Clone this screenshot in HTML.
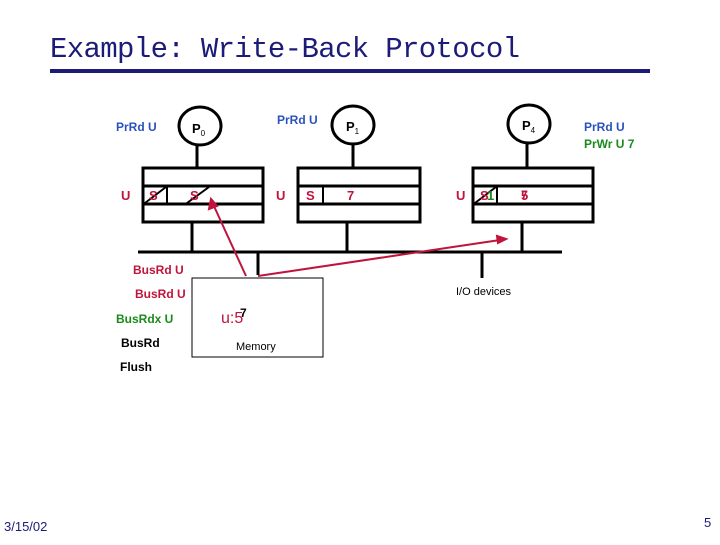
<!DOCTYPE html>
<html><head><style>
body{margin:0;width:720px;height:540px;background:#fff;overflow:hidden;font-family:"Liberation Sans",sans-serif}
</style></head><body>
<svg width="720" height="540" xmlns="http://www.w3.org/2000/svg" font-family="Liberation Sans, sans-serif">
<text x="50" y="57" font-size="29" fill="#1c1c78" font-family="Liberation Mono, monospace" textLength="470">Example: Write-Back Protocol</text>
<rect x="50" y="69" width="600" height="4" fill="#1c1c78"/>
<g stroke="#000" stroke-width="3" fill="none">
<ellipse cx="200" cy="126" rx="21" ry="19"/>
<ellipse cx="353" cy="125" rx="21" ry="19"/>
<ellipse cx="529" cy="124" rx="21" ry="19"/>
<line x1="197" y1="145" x2="197" y2="168"/>
<line x1="353" y1="144" x2="353" y2="168"/>
<line x1="527" y1="143" x2="527" y2="168"/>
<rect x="143" y="168" width="120" height="54"/>
<rect x="298" y="168" width="122" height="54"/>
<rect x="473" y="168" width="120" height="54"/>
<line x1="143" y1="186" x2="263" y2="186"/><line x1="143" y1="204" x2="263" y2="204"/>
<line x1="298" y1="186" x2="420" y2="186"/><line x1="298" y1="204" x2="420" y2="204"/>
<line x1="473" y1="186" x2="593" y2="186"/><line x1="473" y1="204" x2="593" y2="204"/>
<line x1="192" y1="222" x2="192" y2="252"/>
<line x1="347" y1="222" x2="347" y2="252"/>
<line x1="522" y1="222" x2="522" y2="252"/>
<line x1="138" y1="252" x2="562" y2="252"/>
<line x1="258" y1="252" x2="258" y2="275"/>
<line x1="482" y1="252" x2="482" y2="278"/>
</g>
<g stroke="#000" stroke-width="2">
<line x1="167" y1="186" x2="167" y2="204"/>
<line x1="323" y1="186" x2="323" y2="204"/>
<line x1="497" y1="186" x2="497" y2="204"/>
<line x1="145" y1="203" x2="166" y2="187"/>
<line x1="187" y1="203" x2="209" y2="187"/>
<line x1="475" y1="203" x2="496" y2="187"/>
</g>
<rect x="192" y="278" width="131" height="79" fill="#fff" stroke="#000" stroke-width="1"/>
<g fill="#c0143c" font-size="13" font-weight="bold">
<text x="121" y="200">U</text><text x="149" y="200">S</text><text x="190" y="200">S</text>
<text x="276" y="200">U</text><text x="306" y="200">S</text><text x="347" y="200">7</text>
<text x="456" y="200">U</text><text x="480" y="200">S</text><text x="521" y="200">5</text>
<text x="133" y="274" font-size="12">BusRd U</text>
<text x="135" y="298" font-size="12">BusRd U</text>
<text x="221" y="323" font-size="16" font-weight="normal">u:5</text>
</g>
<text x="487" y="200" fill="#1a8a1a" font-size="13" font-weight="bold">1</text>
<text x="521" y="199" fill="#c0143c" font-size="12" font-weight="bold">7</text>
<text x="240" y="317" fill="#000" font-size="12" font-weight="bold">7</text>
<g fill="#2a52be" font-size="12" font-weight="bold">
<text x="116" y="131">PrRd U</text><text x="277" y="124">PrRd U</text><text x="584" y="131">PrRd U</text>
</g>
<text x="584" y="148" fill="#1a8a1a" font-size="12" font-weight="bold">PrWr U 7</text>
<text x="116" y="323" fill="#1a8a1a" font-size="12" font-weight="bold">BusRdx U</text>
<text x="121" y="347" fill="#000" font-size="12" font-weight="bold">BusRd</text>
<text x="120" y="371" fill="#000" font-size="12" font-weight="bold">Flush</text>
<g font-size="13" font-weight="bold"><text x="192" y="133">P<tspan font-size="8" font-weight="normal" dy="3">0</tspan></text>
<text x="346" y="131">P<tspan font-size="8" font-weight="normal" dy="3">1</tspan></text>
<text x="522" y="130">P<tspan font-size="8" font-weight="normal" dy="3">4</tspan></text></g>
<text x="236" y="350" font-size="11">Memory</text>
<text x="456" y="295" font-size="11">I/O devices</text>
<g stroke="#c0143c" stroke-width="2" fill="#c0143c">
<line x1="246" y1="276" x2="213" y2="204"/>
<polygon points="211,199 209,209 217,206" />
<line x1="258" y1="276" x2="500" y2="240"/>
<polygon points="506,239 497,236 498,243"/>
</g>
<text x="4" y="531" font-size="13" fill="#1c1c78">3/15/02</text>
<text x="704" y="527" font-size="13" fill="#1c1c78">5</text>
</svg>
</body></html>
